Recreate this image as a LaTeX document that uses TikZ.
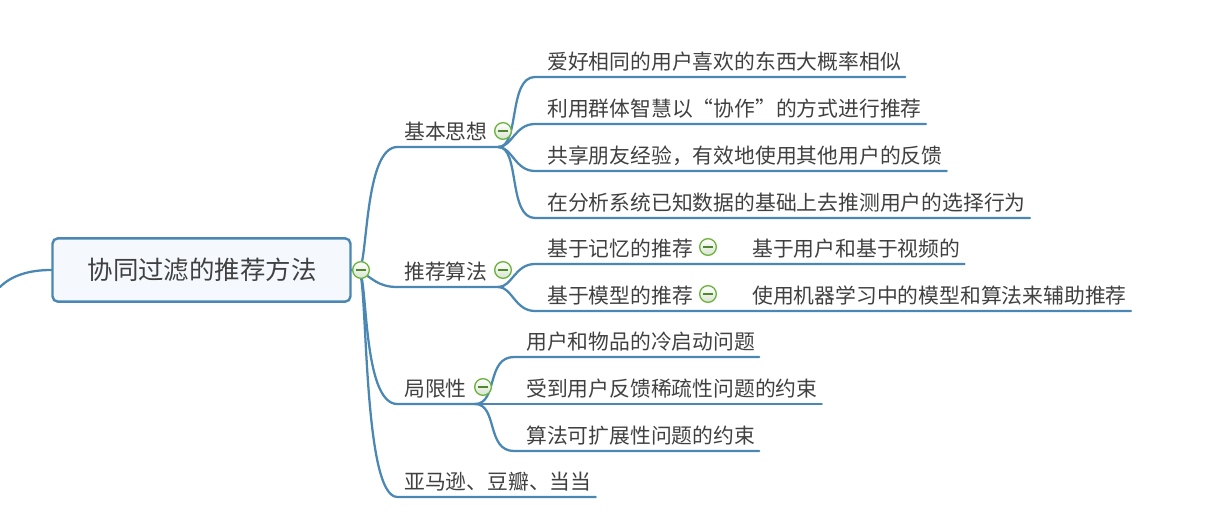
\documentclass[tikz,border=0pt]{standalone}
\usepackage{fontspec}
\setmainfont{Noto Sans CJK SC}
\definecolor{linkblue}{HTML}{4A87B2}
\definecolor{rootfill}{HTML}{F5F9FE}
\definecolor{togglegreen}{HTML}{6DB33F}
\definecolor{togglefill}{HTML}{D8E4D0}
\definecolor{inkgray}{HTML}{404040}
\tikzset{
  link/.style={draw=linkblue, line width=1.7pt, line cap=round},
  rootbox/.style={draw=linkblue, fill=rootfill, line width=1.8pt, rounded corners=4pt,
    minimum width=223.5pt, minimum height=47.5pt, inner sep=0pt, text=inkgray,
    font=\fontsize{19.1}{22}\selectfont},
  leaf/.style={anchor=south west, inner sep=0pt, text height=15pt, text depth=5.4pt,
    text=inkgray, font=\fontsize{15.6}{18}\selectfont},
  toggle/.style={circle, draw=togglegreen, line width=1pt, minimum size=12.5pt, inner sep=0pt,
    top color=white, bottom color=togglefill,
    path picture={\draw[togglegreen!75!black, line width=0.8pt]
      ([xshift=2.5pt]path picture bounding box.west) -- ([xshift=-2.5pt]path picture bounding box.east);}}
}
\begin{document}
\begin{tikzpicture}[x=0.75pt, y=-0.75pt]
  \useasboundingbox (0,0) rectangle (1217,524);

  \node[rootbox] (root) at (201.5,270) {\hspace*{1pt}协同过滤的推荐方法};
  \coordinate (stub) at (0,287);

  \node[leaf] (idea) at (404,147) {基本思想};
  \node[leaf] (algo) at (404,287) {推荐算法};
  \node[leaf] (limit) at (404,404) {局限性};
  \node[leaf] (site) at (404,497) {亚马逊、豆瓣、当当};

  \node[leaf] (idea1) at (547,77) {爱好相同的用户喜欢的东西大概率相似};
  \node[leaf] (idea2) at (547,124) {利用群体智慧以“协作”的方式进行推荐};
  \node[leaf] (idea3) at (547,171) {共享朋友经验，有效地使用其他用户的反馈};
  \node[leaf] (idea4) at (547,218) {在分析系统已知数据的基础上去推测用户的选择行为};

  \node[leaf] (mem) at (547,264) {基于记忆的推荐};
  \node[leaf] (memnote) at (752,264) {基于用户和基于视频的};
  \node[leaf] (model) at (547,311) {基于模型的推荐};
  \node[leaf] (modelnote) at (752,311) {使用机器学习中的模型和算法来辅助推荐};

  \node[leaf] (limit1) at (526,357) {用户和物品的冷启动问题};
  \node[leaf] (limit2) at (526,404) {受到用户反馈稀疏性问题的约束};
  \node[leaf] (limit3) at (526,451) {算法可扩展性问题的约束};

  % main branches
  \draw[link] (root.west) .. controls (30,270) and (12,275) .. (stub);
  \draw[link] (root.east) -- ++(7,0) .. controls (368,265) and (364,147) .. ([xshift=-5pt]idea.south west) -- ([xshift=8pt]idea.south east);
  \draw[link] (root.east) -- ++(7,0) .. controls (372,278) and (378,287) .. ([xshift=-5pt]algo.south west) -- ([xshift=8pt]algo.south east);
  \draw[link] (root.east) -- ++(7,0) .. controls (368,275) and (362,404) .. ([xshift=-5pt]limit.south west) -- ([xshift=6pt]limit.south east);
  \draw[link] (root.east) -- ++(7,0) .. controls (368,275) and (362,497) .. ([xshift=-5pt]site.south west) -- ([xshift=3pt]site.south east);

  % sub branches
  \draw[link] ([xshift=8pt]idea.south east) .. controls (520,147) and (508,77) .. ([xshift=-9pt]idea1.south west) -- ([xshift=3pt]idea1.south east);
  \draw[link] ([xshift=8pt]idea.south east) .. controls (512,147) and (515,124) .. ([xshift=-9pt]idea2.south west) -- ([xshift=3pt]idea2.south east);
  \draw[link] ([xshift=8pt]idea.south east) .. controls (512,147) and (515,171) .. ([xshift=-9pt]idea3.south west) -- ([xshift=3pt]idea3.south east);
  \draw[link] ([xshift=8pt]idea.south east) .. controls (520,147) and (508,218) .. ([xshift=-9pt]idea4.south west) -- ([xshift=3pt]idea4.south east);

  \draw[link] ([xshift=8pt]algo.south east) .. controls (512,287) and (515,264) .. ([xshift=-9pt]mem.south west) -- ([xshift=3pt]memnote.south east);
  \draw[link] ([xshift=8pt]algo.south east) .. controls (512,287) and (515,311) .. ([xshift=-9pt]model.south west) -- ([xshift=3pt]modelnote.south east);

  \draw[link] ([xshift=6pt]limit.south east) .. controls (498,404) and (486,357) .. ([xshift=-9pt]limit1.south west) -- ([xshift=3pt]limit1.south east);
  \draw[link] ([xshift=6pt]limit.south east) -- ([xshift=-9pt]limit2.south west) -- ([xshift=3pt]limit2.south east);
  \draw[link] ([xshift=6pt]limit.south east) .. controls (498,404) and (486,451) .. ([xshift=-9pt]limit3.south west) -- ([xshift=3pt]limit3.south east);

  % collapse marks
  \node[toggle] (roottog) at (361,270) {};
  \node[toggle] (ideatog) at (503,131) {};
  \node[toggle] (algotog) at (503,270) {};
  \node[toggle] (limittog) at (483,387) {};
  \node[toggle] (memtog) at (708,247) {};
  \node[toggle] (modeltog) at (708,294) {};
\end{tikzpicture}
\end{document}
